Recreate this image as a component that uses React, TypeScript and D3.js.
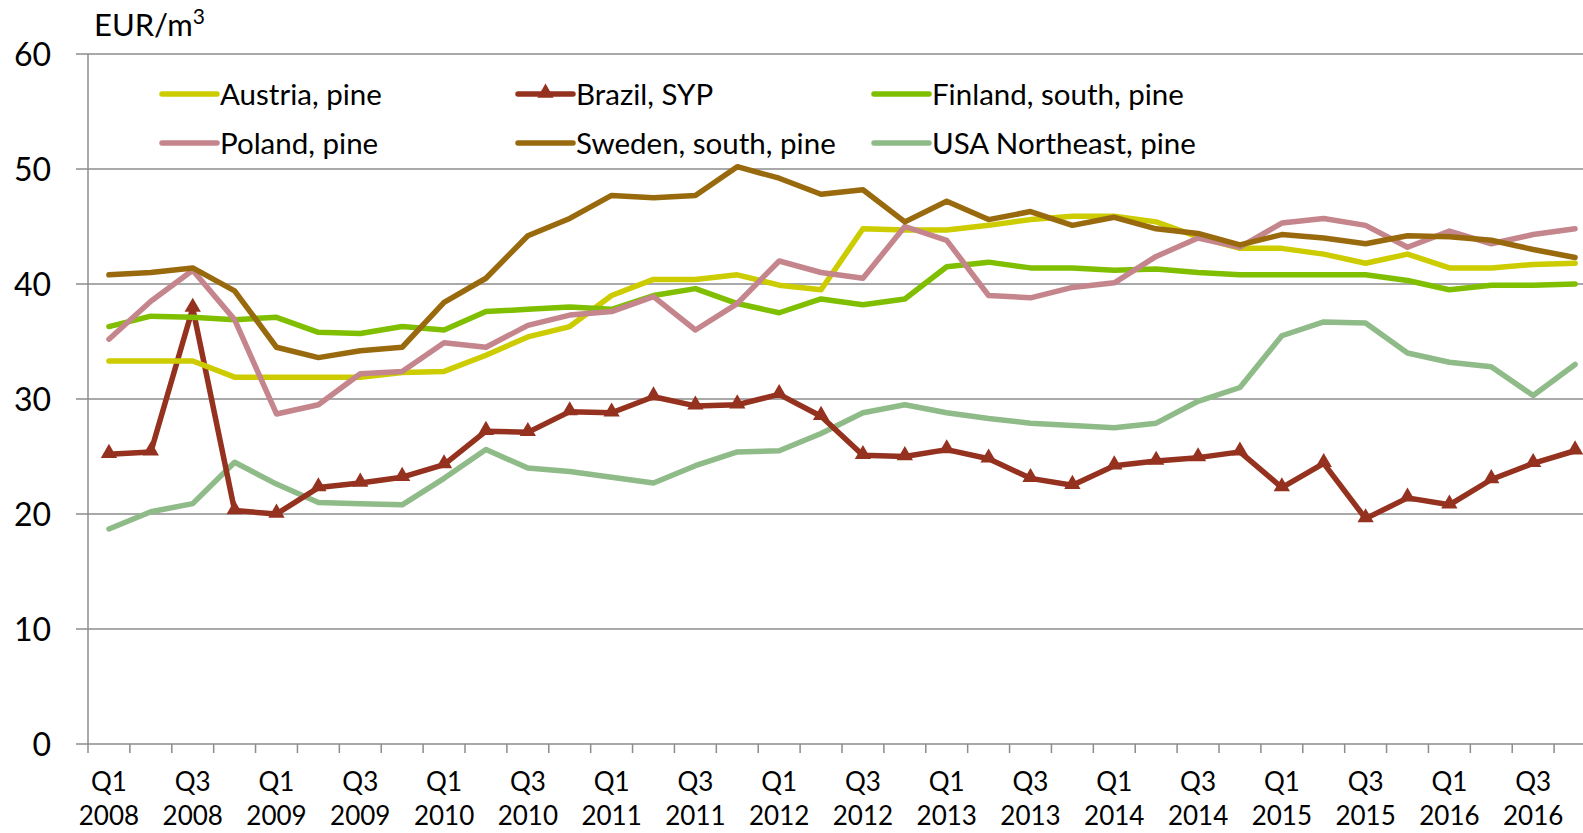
import React from "react";
import * as d3 from "d3";

const years = [2008, 2009, 2010, 2011, 2012, 2013, 2014, 2015, 2016];
const quarters = ["Q1", "Q2", "Q3", "Q4"];
const categories: string[] = [];
years.forEach((y) => quarters.forEach((q) => categories.push(`${q} ${y}`)));

const austria = [33.3, 33.3, 33.3, 31.9, 31.9, 31.9, 31.9, 32.3, 32.4, 33.8, 35.4, 36.3, 39.0, 40.4, 40.4, 40.8, 39.9, 39.5, 44.8, 44.7, 44.7, 45.1, 45.6, 45.9, 45.9, 45.4, 44.1, 43.1, 43.1, 42.6, 41.8, 42.6, 41.4, 41.4, 41.7, 41.8];
const brazil = [25.2, 25.4, 37.9, 20.3, 20.0, 22.3, 22.7, 23.2, 24.3, 27.2, 27.1, 28.9, 28.8, 30.2, 29.4, 29.5, 30.4, 28.5, 25.1, 25.0, 25.6, 24.8, 23.1, 22.5, 24.2, 24.6, 24.9, 25.4, 22.3, 24.4, 19.6, 21.4, 20.8, 23.0, 24.4, 25.5];
const finland = [36.3, 37.2, 37.1, 36.9, 37.1, 35.8, 35.7, 36.3, 36.0, 37.6, 37.8, 38.0, 37.8, 39.0, 39.6, 38.3, 37.5, 38.7, 38.2, 38.7, 41.5, 41.9, 41.4, 41.4, 41.2, 41.3, 41.0, 40.8, 40.8, 40.8, 40.8, 40.3, 39.5, 39.9, 39.9, 40.0];
const poland = [35.2, 38.5, 41.2, 36.9, 28.7, 29.5, 32.2, 32.4, 34.9, 34.5, 36.4, 37.3, 37.6, 38.9, 36.0, 38.3, 42.0, 41.0, 40.5, 45.0, 43.8, 39.0, 38.8, 39.7, 40.1, 42.4, 44.0, 43.2, 45.3, 45.7, 45.1, 43.2, 44.6, 43.5, 44.3, 44.8];
const sweden = [40.8, 41.0, 41.4, 39.4, 34.5, 33.6, 34.2, 34.5, 38.4, 40.5, 44.2, 45.7, 47.7, 47.5, 47.7, 50.2, 49.2, 47.8, 48.2, 45.4, 47.2, 45.6, 46.3, 45.1, 45.8, 44.8, 44.4, 43.4, 44.3, 44.0, 43.5, 44.2, 44.1, 43.8, 43.0, 42.3];
const usa = [18.7, 20.2, 20.9, 24.5, 22.6, 21.0, 20.9, 20.8, 23.1, 25.6, 24.0, 23.7, 23.2, 22.7, 24.2, 25.4, 25.5, 27.0, 28.8, 29.5, 28.8, 28.3, 27.9, 27.7, 27.5, 27.9, 29.8, 31.0, 35.5, 36.7, 36.6, 34.0, 33.2, 32.8, 30.3, 33.0];

const yTicks = [0, 10, 20, 30, 40, 50, 60];

const seriesList = [
  { name: "Austria, pine", values: austria, color: "#cccc00", marker: false },
  { name: "Brazil, SYP", values: brazil, color: "#95311f", marker: true },
  { name: "Finland, south, pine", values: finland, color: "#80bf00", marker: false },
  { name: "Poland, pine", values: poland, color: "#c4868c", marker: false },
  { name: "Sweden, south, pine", values: sweden, color: "#996a0d", marker: false },
  { name: "USA Northeast, pine", values: usa, color: "#8fbb88", marker: false },
];

const drawOrder = ["USA Northeast, pine", "Brazil, SYP", "Austria, pine", "Finland, south, pine", "Poland, pine", "Sweden, south, pine"];

const W = 1583;
const H = 833;
const left = 88;
const right = 1596;
const top = 54;
const bottom = 744;
const FONT = "Lato, 'Open Sans', sans-serif";

export default function App() {
  const x = d3.scaleBand<string>().domain(categories).range([left, right]).paddingInner(0).paddingOuter(0);
  const y = d3.scaleLinear().domain([0, 60]).range([bottom, top]);
  const cx = (c: string) => (x(c) as number) + x.bandwidth() / 2;
  const line = d3
    .line<number>()
    .x((_, i) => cx(categories[i]))
    .y((v) => y(v));
  const tri = d3.symbol().type(d3.symbolTriangle).size(115);

  const legendCols = [162, 518, 874];
  const legendRows = [94, 143];

  return (
    <svg width={W} height={H} style={{ position: "absolute", left: 0, top: 0, background: "#fff" }} fontFamily={FONT}>
      <rect x={0} y={0} width={W} height={H} fill="#fff" />
      {yTicks.map((t) => (
        <line key={t} x1={left - 12} x2={W} y1={y(t)} y2={y(t)} stroke="#8c8c8c" strokeWidth={1.5} />
      ))}
      <line x1={left} x2={left} y1={top} y2={bottom} stroke="#8c8c8c" strokeWidth={1.5} />
      {yTicks.map((t) => (
        <text key={t} x={51} y={y(t)} dy="0.36em" textAnchor="end" fontSize={32} fill="#000">
          {t}
        </text>
      ))}
      {categories.map((c) => (
        <line key={c} x1={x(c) as number} x2={x(c) as number} y1={bottom} y2={bottom + 9} stroke="#8c8c8c" strokeWidth={1.5} />
      ))}
      {categories.map((c, i) =>
        i % 2 === 0 ? (
          <text key={c} x={cx(c)} textAnchor="middle" fontSize={26} fill="#000">
            <tspan x={cx(c)} y={791}>{c.split(" ")[0]}</tspan>
            <tspan x={cx(c)} y={825}>{c.split(" ")[1]}</tspan>
          </text>
        ) : null
      )}
      <text x={94} y={36} fontSize={31} fill="#000">
        EUR/m<tspan dy={-12} fontSize={21}>3</tspan>
      </text>
      {drawOrder.map((n) => {
        const s = seriesList.find((d) => d.name === n)!;
        return (
          <g key={n}>
            <path d={line(s.values) || ""} fill="none" stroke={s.color} strokeWidth={5.5} strokeLinejoin="round" strokeLinecap="round" />
            {s.marker &&
              s.values.map((v, i) => (
                <path key={i} d={tri() || ""} transform={`translate(${cx(categories[i])},${y(v) - 1})`} fill={s.color} />
              ))}
          </g>
        );
      })}
      {seriesList.map((s, i) => {
        const lx = legendCols[i % 3];
        const ly = legendRows[Math.floor(i / 3)];
        return (
          <g key={s.name}>
            <line x1={lx} x2={lx + 55} y1={ly} y2={ly} stroke={s.color} strokeWidth={5.5} strokeLinecap="round" />
            {s.marker && <path d={tri() || ""} transform={`translate(${lx + 27.5},${ly - 1})`} fill={s.color} />}
            <text x={lx + 58} y={ly} dy="0.36em" fontSize={29.5} fill="#000">
              {s.name}
            </text>
          </g>
        );
      })}
    </svg>
  );
}
